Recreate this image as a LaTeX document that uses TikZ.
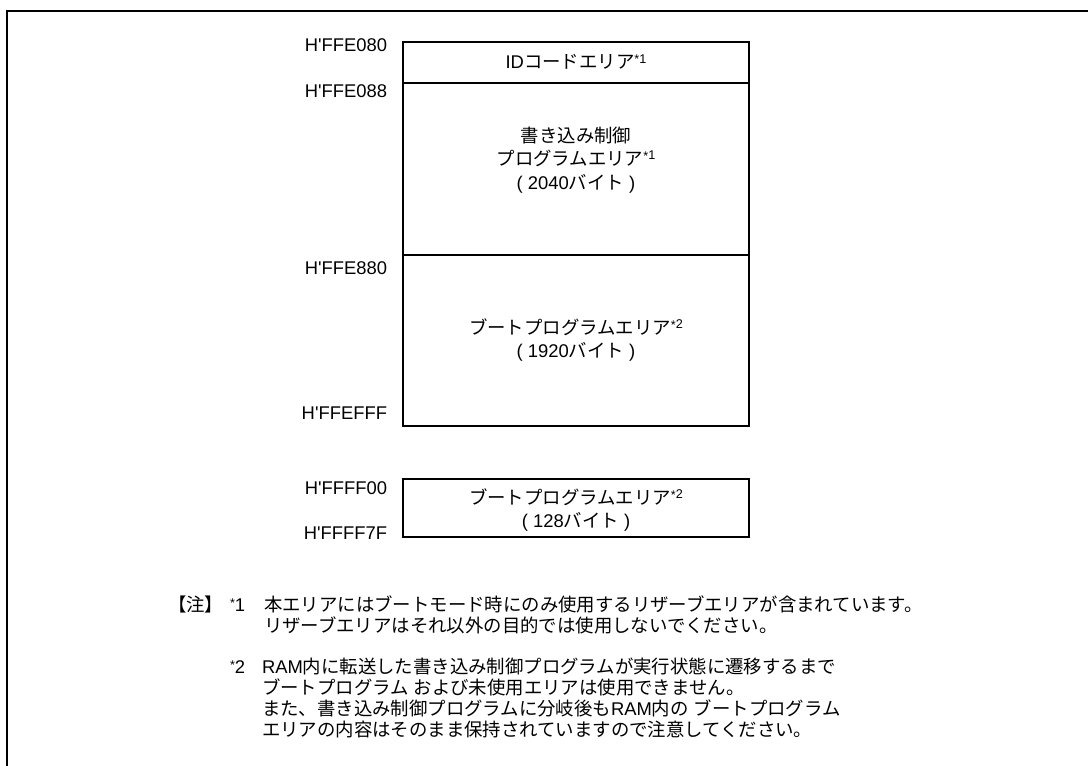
\documentclass[tikz,border=0pt]{standalone}
\usepackage{fontspec}
\setmainfont{Liberation Sans}[Ligatures=TeXOff]
\newfontfamily\jpfont{Noto Sans CJK JP}
\newcommand\J[1]{{\jpfont #1}}
\newcommand\supnote[1]{\raisebox{0.32em}{\fontsize{9.5}{9.5}\selectfont\raisebox{-0.05em}{*}#1}}
\newcommand\notemark[1]{{\fontsize{9.5}{9.5}\selectfont\raisebox{0.3em}{*}}#1}
\begin{document}
\begin{tikzpicture}[x=0.75pt,y=-0.75pt,
  every node/.style={inner sep=0pt,outer sep=0pt,font=\fontsize{13.8}{17.5}\selectfont},
  framestyle/.style={line width=1.5pt},
  boxstyle/.style={line width=1.45pt},
  addr/.style={anchor=east},
  areatext/.style={align=center},
  notetext/.style={anchor=west,align=left,font=\fontsize{13.8}{15.75}\selectfont}]
\useasboundingbox (0,0) rectangle (1088,766);
% outer frame (top and left edges)
\draw[framestyle] (7,767) -- (7,11) -- (1089,11);
% memory map blocks
\draw[boxstyle] (403,42) rectangle (749,426);
\draw[boxstyle] (403,83) -- (749,83);
\draw[boxstyle] (403,255) -- (749,255);
\draw[boxstyle] (403,479) rectangle (749,537);
% addresses
\node[addr] (a1) at (387,45) {H'FFE080};
\node[addr] (a2) at (387,91) {H'FFE088};
\node[addr] (a3) at (387,268) {H'FFE880};
\node[addr] (a4) at (387,413) {H'FFEFFF};
\node[addr] (a5) at (387,488) {H'FFFF00};
\node[addr] (a6) at (387,533) {H'FFFF7F};
% area texts
\node[areatext] (idarea) at (576,62) {ID\J{コードエリア}\supnote{1}};
\node[areatext] (wctrl) at (576,160) {\J{書き込み制御}\\\J{プログラムエリア}\supnote{1}\\( 2040\J{バイト} )};
\node[areatext] (boot1) at (576,340) {\J{ブートプログラムエリア}\supnote{2}\\( 1920\J{バイト} )};
\node[areatext] (boot2) at (576,510) {\J{ブートプログラムエリア}\supnote{2}\\( 128\J{バイト} )};
% notes
\node[anchor=west] (chu) at (168,605) {\J{【注】}};
\node[anchor=west] (n1) at (230,605) {\notemark{1}};
\node[notetext,anchor=north west] (t1) at (264,596) {\J{本エリアにはブートモード時にのみ使用するリザーブエリアが含まれています。}\\\J{リザーブエリアはそれ以外の目的では使用しないでください。}};
\node[anchor=west] (n2) at (230,667) {\notemark{2}};
\node[notetext,anchor=north west] (t2) at (262,658) {RAM\J{内に転送した書き込み制御プログラムが実行状態に遷移するまで}\\\J{ブートプログラム} \J{および未使用エリアは使用できません。}\\\J{また、書き込み制御プログラムに分岐後も}RAM\J{内の} \J{ブートプログラム}\\\J{エリアの内容はそのまま保持されていますので注意してください。}};
\end{tikzpicture}
\end{document}
